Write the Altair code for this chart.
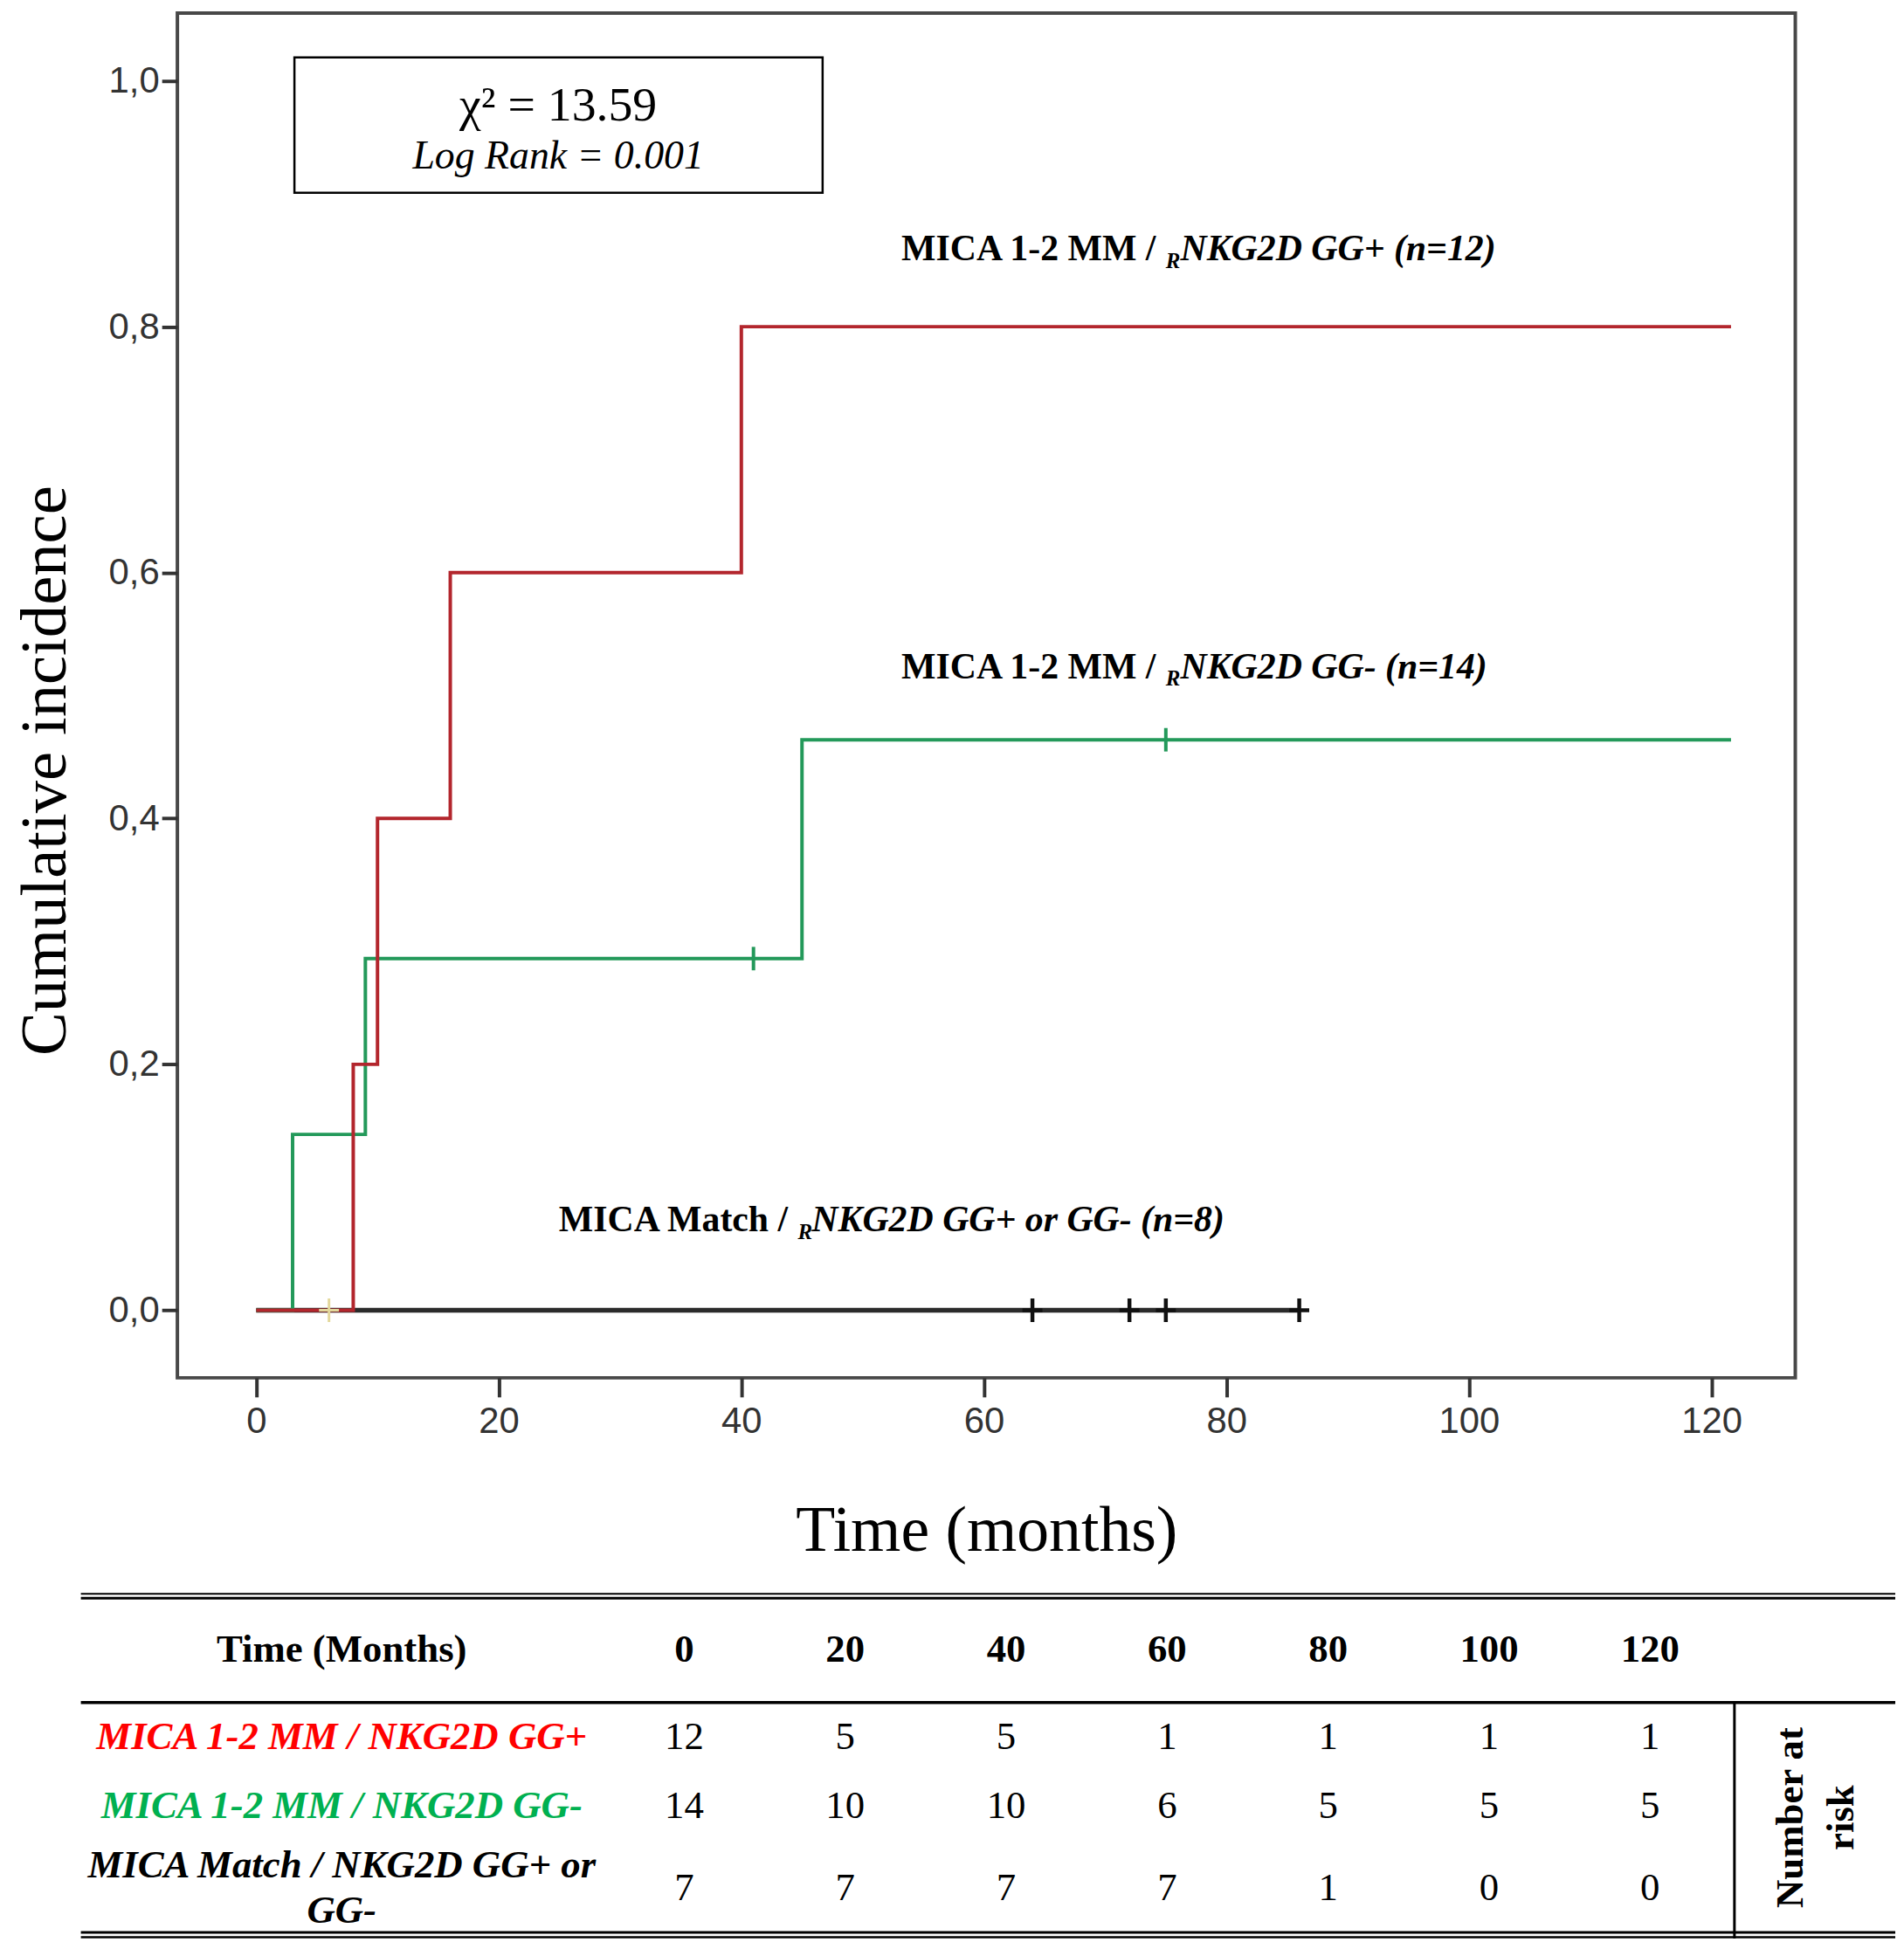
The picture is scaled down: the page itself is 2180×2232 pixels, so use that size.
import altair as alt
import pandas as pd

# cumulative incidence curves (months, incidence)
red_t = [0, 8, 10, 16, 40, 121.6]
red_y = [0, 0.2, 0.4, 0.6, 0.8, 0.8]
green_t = [0, 3, 9, 45, 121.6]
green_y = [0, 0.143, 0.286, 0.464, 0.464]
black_t = [0, 86]
black_y = [0, 0]

# censored observations
green_cens_t = [41, 75]
green_cens_y = [0.286, 0.464]
black_cens_t = [64, 72, 75, 86]
black_cens_y = [0, 0, 0, 0]
tan_cens_t = [6]
tan_cens_y = [0]

x_ticks = [0, 20, 40, 60, 80, 100, 120]
y_ticks = [0, 0.2, 0.4, 0.6, 0.8, 1.0]

# number at risk table
risk_times = [0, 20, 40, 60, 80, 100, 120]
risk_red = [12, 5, 5, 1, 1, 1, 1]
risk_green = [14, 10, 10, 6, 5, 5, 5]
risk_black = [7, 7, 7, 7, 1, 0, 0]
row_keys = ["hdr", "r1", "r2", "r3"]
row_labels = ["MICA 1-2 MM / NKG2D GG+", "MICA 1-2 MM / NKG2D GG-", "MICA Match / NKG2D GG+ or\nGG-"]
row_colors = ["#ff0000", "#00b050", "#000000"]

RED = "#b3262d"
GREEN = "#23995a"
BLACK = "#2b2b2b"
SERIF = "Liberation Serif"
NARROW = "Liberation Sans Narrow, Liberation Sans"

xs = alt.Scale(domain=[-6.5, 126.9], nice=False, zero=False)
ys = alt.Scale(domain=[-0.055, 1.055], nice=False, zero=False)

x_axis = alt.Axis(values=x_ticks, title="Time (months)", domain=False, grid=False,
                  tickSize=22, tickWidth=4, tickColor="#333333",
                  labelFont=NARROW, labelFontSize=42, labelColor="#333333", labelPadding=8,
                  titleFont=SERIF, titleFontSize=74, titleFontWeight="normal", titleColor="black",
                  titleY=199, titleBaseline="alphabetic")
y_axis = alt.Axis(values=y_ticks, labelExpr="replace(format(datum.value, '.1f'), '.', ',')",
                  title="Cumulative incidence", domain=False, grid=False,
                  tickSize=18, tickWidth=4, tickColor="#333333",
                  labelFont=NARROW, labelFontSize=42, labelColor="#333333", labelPadding=3,
                  titleFont=SERIF, titleFontSize=75, titleFontWeight="normal", titleColor="black",
                  titleX=-129, titleY=871, titleBaseline="alphabetic")


def xy(tfield="t", vfield="v"):
    return dict(x=alt.X(f"{tfield}:Q", scale=xs, axis=x_axis),
                y=alt.Y(f"{vfield}:Q", scale=ys, axis=y_axis))


def step_line(t, v, color, width):
    return alt.Chart(pd.DataFrame({"t": t, "v": v})).mark_line(
        interpolate="step-after", color=color, strokeWidth=width).encode(**xy())


def censor(t, v, color, shape, size, width):
    return alt.Chart(pd.DataFrame({"t": t, "v": v})).mark_point(
        shape=shape, size=size, filled=False, color=color, strokeWidth=width, opacity=1).encode(**xy())


def note(text, x, y, size, weight="bold", style="normal"):
    return alt.Chart(pd.DataFrame({"_": [0]})).mark_text(
        text=text, font=SERIF, fontSize=size, fontWeight=weight, fontStyle=style,
        align="left", baseline="alphabetic", color="black").encode(
        x=alt.datum(x, scale=xs), y=alt.datum(y, scale=ys))


plus = "M0,-1V1M-0.85,0H0.85"
vbar = "M0,-1V1"

box = alt.Chart(pd.DataFrame({"_": [0]})).mark_rect(
    fill="white", stroke="black", strokeWidth=2.5).encode(
    x=alt.datum(3.15, scale=xs), x2=alt.datum(46.7),
    y=alt.datum(1.019, scale=ys), y2=alt.datum(0.909))

chi = alt.Chart(pd.DataFrame({"_": [0]})).mark_text(
    text="χ² = 13.59", font=SERIF, fontSize=56, align="center", baseline="alphabetic",
    color="black").encode(x=alt.datum(24.9, scale=xs), y=alt.datum(0.968, scale=ys))
logrank = alt.Chart(pd.DataFrame({"_": [0]})).mark_text(
    text="Log Rank = 0.001", font=SERIF, fontSize=46, fontStyle="italic", align="center",
    baseline="alphabetic", color="black").encode(x=alt.datum(24.9, scale=xs), y=alt.datum(0.929, scale=ys))

labels = [
    note("MICA 1-2 MM /", 53.2, 0.854, 42),
    note("R", 75.0, 0.848, 25, style="italic"),
    note("NKG2D GG+ (n=12)", 76.2, 0.854, 42, style="italic"),
    note("MICA 1-2 MM /", 53.2, 0.514, 42),
    note("R", 75.0, 0.508, 25, style="italic"),
    note("NKG2D GG- (n=14)", 76.2, 0.514, 42, style="italic"),
    note("MICA Match /", 24.95, 0.0643, 42),
    note("R", 44.66, 0.0579, 25, style="italic"),
    note("NKG2D GG+ or GG- (n=8)", 45.8, 0.0643, 42, style="italic"),
]

plot = alt.layer(
    step_line(black_t, black_y, BLACK, 5.5),
    step_line(green_t, green_y, GREEN, 4),
    step_line(red_t, red_y, RED, 4),
    censor(black_cens_t, black_cens_y, "#111111", plus, 729, 4.5),
    censor(green_cens_t, green_cens_y, GREEN, vbar, 729, 4),
    censor(tan_cens_t, tan_cens_y, "#e3d89c", plus, 729, 3),
    box, chi, logrank, *labels,
).properties(width=1861, height=1570,
             view=alt.ViewBackground(stroke="#484848", strokeWidth=4))

# ---- number-at-risk table ----
tx = alt.Scale(domain=[-62.97, 138.04], nice=False, zero=False)
ty = alt.Scale(type="point", domain=row_keys, range=[73, 347], padding=0)
cs = alt.Scale(domain=row_keys[1:], range=row_colors)

risk = pd.DataFrame({
    "t": risk_times * 3,
    "row": ["r1"] * 7 + ["r2"] * 7 + ["r3"] * 7,
    "n": risk_red + risk_green + risk_black,
})
head = pd.DataFrame({"t": risk_times, "row": ["hdr"] * 7, "n": [str(t) for t in risk_times]})
names = pd.DataFrame({"row": row_keys[1:], "label": row_labels})
# small vertical nudges so rows sit where the reference puts them
row_dy = {"r1": 9, "r2": -3, "r3": 0}

head_nums = alt.Chart(head).mark_text(font=SERIF, fontSize=45, fontWeight="bold", baseline="middle").encode(
    x=alt.X("t:Q", scale=tx, axis=None), y=alt.Y("row:N", scale=ty, axis=None), text="n:N")
nums = [alt.Chart(risk[risk["row"] == r]).mark_text(font=SERIF, fontSize=45, baseline="middle", dy=d).encode(
    x=alt.X("t:Q", scale=tx, axis=None), y=alt.Y("row:N", scale=ty, axis=None), text="n:N")
    for r, d in row_dy.items()]
head_label = alt.Chart(pd.DataFrame({"row": ["hdr"], "label": ["Time (Months)"]})).mark_text(
    font=SERIF, fontSize=45, fontWeight="bold", baseline="middle").encode(
    x=alt.value(189), y=alt.Y("row:N", scale=ty, axis=None), text="label:N")


def row_name(r, dy):
    return alt.Chart(names[names["row"] == r]).mark_text(
        font=SERIF, fontSize=45, fontWeight="bold", fontStyle="italic", baseline="middle",
        lineBreak="\n", lineHeight=53, dy=dy).encode(
        x=alt.value(189), y=alt.Y("row:N", scale=ty, axis=None), text="label:N",
        color=alt.Color("row:N", scale=cs, legend=None))


one = pd.DataFrame({"_": [0]})


def hline(y, w):
    return alt.Chart(one).mark_rule(color="black", strokeWidth=w).encode(
        x=alt.value(-111), x2=alt.value(1976), y=alt.value(y))


nar = [alt.Chart(one).mark_text(text=txt, font=SERIF, fontSize=45, fontWeight="bold", angle=270,
                                align="center", baseline="middle").encode(x=alt.value(xp), y=alt.value(266))
       for txt, xp in [("Number  at", 1855), ("risk", 1914)]]

vline = alt.Chart(one).mark_rule(color="black", strokeWidth=3).encode(
    x=alt.value(1791), y=alt.value(133.5), y2=alt.value(405))

table = alt.layer(
    hline(8.5, 2), hline(13.5, 3), hline(133.5, 3.5), hline(398, 3), hline(403.5, 2.5),
    vline, head_label, head_nums, *nums,
    row_name("r1", 9), row_name("r2", -3), row_name("r3", -26.5), *nar,
).properties(width=1861, height=412, view=alt.ViewBackground(strokeWidth=0))

chart = alt.vconcat(plot, table, spacing=24).properties(
    padding={"left": 5, "top": 0, "right": 0, "bottom": 0}
).configure_view(strokeWidth=0).configure(background="white")

chart.save("out.html", embed_options={"renderer": "svg", "actions": False})
